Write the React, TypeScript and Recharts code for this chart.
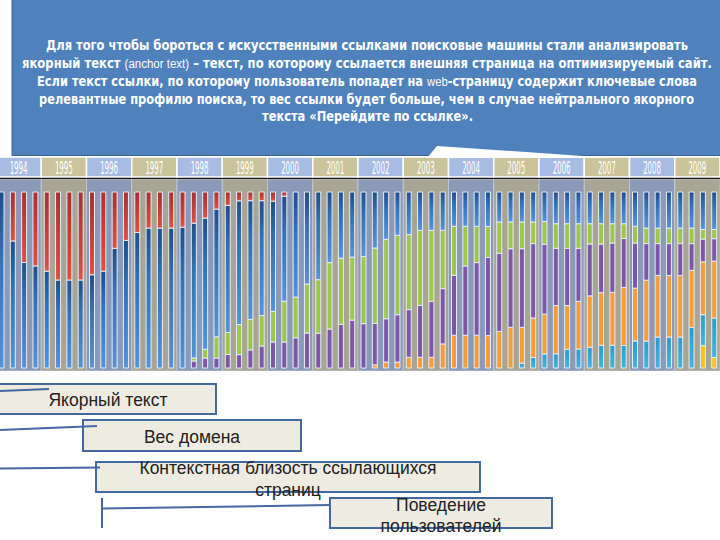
import React from 'react';
import { BarChart, Bar, XAxis, YAxis, ReferenceArea } from 'recharts';

// ---------- data ----------
const years = ['1994', '1995', '1996', '1997', '1998', '1999', '2000', '2001', '2002', '2003', '2004', '2005', '2006', '2007', '2008', '2009'];
const quarterNames = ['Q1', 'Q2', 'Q3', 'Q4'];
const categories = years.flatMap((y) => quarterNames.map((q) => `${y} ${q}`));

const red = [
  0, 27.8, 40, 42, 45, 50, 50, 50, 47, 45, 32, 27.5, 23, 20.5, 20.5, 20.5,
  20, 17.7, 14.8, 9.7, 7.6, 5, 4.9, 4.9, 5.2, 2.4, 0, 0, 0, 0, 0, 0,
  0, 0, 0, 0, 0, 0, 0, 0, 0, 0, 0, 0, 0, 0, 0, 0,
  0, 0, 0, 0, 0, 0, 0, 0, 0, 0, 0, 0, 0, 0, 0, 0,
];
const blue = [
  100, 72.2, 60, 58, 55, 50, 50, 50, 53, 55, 68, 72.5, 77, 79.5, 79.5, 79.5,
  80, 76.6, 74.5, 72.6, 72.2, 70.3, 67.5, 65.3, 62.6, 59.6, 59.7, 52.3, 49.8, 40.1, 37.6, 37,
  36.6, 31.8, 26.9, 24.6, 24.2, 21.8, 21.8, 21.8, 19.5, 19.5, 19.5, 19.6, 17, 17, 17, 17,
  16.8, 18, 18, 18, 18, 18, 18, 18, 19.5, 20.5, 20.5, 20.5, 20.5, 20.5, 21.3, 21.3,
];
const green = [
  0, 0, 0, 0, 0, 0, 0, 0, 0, 0, 0, 0, 0, 0, 0, 0,
  0, 1.7, 5, 12, 12.5, 17.1, 17.3, 17.3, 17.4, 23.2, 23.1, 27.8, 30.4, 37.7, 37.6, 35.8,
  38.2, 42.8, 45.1, 45.1, 42.6, 42.6, 40.3, 33.1, 27.8, 22.5, 20.6, 17.6, 17.8, 15.2, 15.2, 12.3,
  12.9, 14, 14, 14, 11.5, 11.5, 11, 8.4, 9.5, 8.8, 8.8, 8.8, 8.8, 8.8, 5.4, 5.2,
];
const purple = [
  0, 0, 0, 0, 0, 0, 0, 0, 0, 0, 0, 0, 0, 0, 0, 0,
  0, 4, 5.7, 5.7, 7.7, 7.6, 10.3, 12.5, 14.8, 14.8, 17.2, 19.9, 19.8, 22.2, 24.8, 27.2,
  25.2, 23.6, 24.6, 26.9, 27.1, 29.5, 31.8, 31.4, 34.1, 39.4, 41.3, 44.4, 44.4, 44.7, 44.7, 42.3,
  39.7, 32.5, 32.5, 30.1, 29.5, 27.7, 28, 27.8, 25.6, 20.8, 18.1, 18.1, 18.1, 15.2, 13, 12.8,
];
const orange = [
  0, 0, 0, 0, 0, 0, 0, 0, 0, 0, 0, 0, 0, 0, 0, 0,
  0, 0, 0, 0, 0, 0, 0, 0, 0, 0, 0, 0, 0, 0, 0, 0,
  0, 1.8, 3.4, 3.4, 6.1, 6.1, 6.1, 13.7, 18.6, 18.6, 18.6, 18.4, 20.8, 23.1, 20.3, 22.4,
  22.6, 27.4, 24.8, 27.1, 29.2, 29.9, 30, 33, 30, 34.6, 35, 35, 35, 32.4, 30, 32.3,
];
const cyan = [
  0, 0, 0, 0, 0, 0, 0, 0, 0, 0, 0, 0, 0, 0, 0, 0,
  0, 0, 0, 0, 0, 0, 0, 0, 0, 0, 0, 0, 0, 0, 0, 0,
  0, 0, 0, 0, 0, 0, 0, 0, 0, 0, 0, 0, 0, 0, 2.8, 6,
  8, 8.1, 10.7, 10.8, 11.8, 12.9, 13, 12.8, 15.4, 15.3, 17.6, 17.6, 17.6, 23.1, 17.6, 22.4,
];
const yellow = [
  0, 0, 0, 0, 0, 0, 0, 0, 0, 0, 0, 0, 0, 0, 0, 0,
  0, 0, 0, 0, 0, 0, 0, 0, 0, 0, 0, 0, 0, 0, 0, 0,
  0, 0, 0, 0, 0, 0, 0, 0, 0, 0, 0, 0, 0, 0, 0, 0,
  0, 0, 0, 0, 0, 0, 0, 0, 0, 0, 0, 0, 0, 0, 12.7, 6,
];

const noteLines = [
  ['Для того чтобы бороться с искусственными ссылками поисковые машины стали анализировать'],
  ['якорный текст ', '(anchor text)', ' – текст, по которому ссылается внешняя страница на оптимизируемый сайт.'],
  ['Если текст ссылки, по которому пользователь попадет на  ', 'web', '-страницу содержит ключевые слова'],
  ['релевантные профилю поиска, то вес ссылки будет больше, чем в случае нейтрального  якорного'],
  ['текста «Перейдите по ссылке».'],
];

const calloutTexts = [
  ['Якорный текст'],
  ['Вес домена'],
  ['Контекстная близость ссылающихся', 'страниц'],
  ['Поведение', 'пользователей'],
];

// ---------- table ----------
const seriesKeys = ['yellow', 'cyan', 'orange', 'purple', 'green', 'blue', 'red'];
const seriesValues: Record<string, number[]> = { yellow, cyan, orange, purple, green, blue, red };
const rows = categories.map((c, i) => {
  const raw = seriesKeys.map((k) => seriesValues[k][i]);
  const sum = raw.reduce((a, b) => a + b, 0);
  const row: Record<string, any> = { q: c };
  seriesKeys.forEach((k, j) => {
    row[k] = (raw[j] * 100) / sum;
  });
  return row;
});

// ---------- styles ----------
const seriesFill: Record<string, string> = {
  yellow: '#f4c41c',
  cyan: 'url(#gCyan)',
  orange: '#f49b3a',
  purple: '#7d56a5',
  green: '#9dc64f',
  blue: 'url(#gBlue)',
  red: 'url(#gRed)',
};

const Y_MIN = -1.7;
const BAND_TOP = 107.4;
const HEADER_BOTTOM = 108.55;
const Y_MAX = 119.9;

const noteLayout = [
  { x1: 46, x2: 688, y: 49.5 },
  { x1: 22, x2: 712, y: 68 },
  { x1: 37, x2: 697, y: 85.5 },
  { x1: 39, x2: 694, y: 103.5 },
  { x1: 262, x2: 473, y: 120.5 },
];

const BOX_STROKE = '#4368a0';
const BOX_FILL = '#eeece1';
const NARROW = "'Liberation Sans Narrow', 'DejaVu Sans Condensed', 'Liberation Sans', sans-serif";

const YearLabel = (props: any) => {
  const vb = props.viewBox || {};
  return (
    <text
      x={vb.x + vb.width / 2}
      y={vb.y + vb.height - 3}
      textAnchor="middle"
      fill="#ffffff"
      fontSize={17}
      fontFamily={NARROW}
      textLength={18}
      lengthAdjust="spacingAndGlyphs"
    >
      {props.year}
    </text>
  );
};

export default function App() {
  return (
    <div style={{ position: 'absolute', left: 0, top: 0, width: 720, height: 540, overflow: 'hidden', background: '#ffffff' }}>
      <div style={{ position: 'absolute', left: -4, top: 157 }}>
        <BarChart
          width={724}
          height={214}
          data={rows}
          margin={{ top: 0, right: 0, bottom: 0, left: 0 }}
          barSize={5}
        >
          <defs>
            <linearGradient id="gBlue" x1="0" y1="0" x2="0" y2="1">
              <stop offset="0" stopColor="#1f4d8a" />
              <stop offset="0.35" stopColor="#3470b6" />
              <stop offset="1" stopColor="#5593d8" />
            </linearGradient>
            <linearGradient id="gRed" x1="0" y1="0" x2="0" y2="1">
              <stop offset="0" stopColor="#a83030" />
              <stop offset="1" stopColor="#de5044" />
            </linearGradient>
            <linearGradient id="gCyan" x1="0" y1="0" x2="0" y2="1">
              <stop offset="0" stopColor="#2d9cc6" />
              <stop offset="1" stopColor="#45b3d8" />
            </linearGradient>
          </defs>
          <XAxis dataKey="q" hide />
          <YAxis hide type="number" domain={[Y_MIN, Y_MAX]} allowDataOverflow />
          {years.map((y, i) => (
            <ReferenceArea
              key={'band' + y}
              x1={categories[i * 4]}
              x2={categories[i * 4 + 3]}
              y1={Y_MIN}
              y2={BAND_TOP}
              fill={i % 2 === 0 ? '#8a9ab8' : '#a8a595'}
              fillOpacity={1}
              stroke="#c4ccd8"
              strokeWidth={0.8}
            />
          ))}
          <ReferenceArea y1={BAND_TOP} y2={HEADER_BOTTOM} fill="#151515" fillOpacity={1} />
          {years.map((y, i) => (
            <ReferenceArea
              key={'head' + y}
              x1={categories[i * 4]}
              x2={categories[i * 4 + 3]}
              y1={HEADER_BOTTOM}
              y2={Y_MAX}
              fill={i % 2 === 0 ? '#a7bce2' : '#cac39b'}
              fillOpacity={1}
              stroke="#ffffff"
              strokeWidth={1.5}
              label={(p: any) => <YearLabel {...p} year={y} />}
            />
          ))}
          {seriesKeys.map((k) => (
            <Bar
              key={k}
              dataKey={k}
              stackId="s"
              fill={seriesFill[k]}
              stroke="#e6edf5"
              strokeWidth={1}
              isAnimationActive={false}
            />
          ))}
        </BarChart>
      </div>

      <svg style={{ position: 'absolute', left: 0, top: 0 }} width={720} height={540}>
        {/* note box */}
        <rect x={12} y={-2} width={712} height={157.5} fill="#4f81bd" stroke="#3a6596" strokeWidth={1} />
        <polygon points="427,158 437,146 612,158" fill="#ffffff" />
        {noteLines.map((parts, i) => {
          const L = noteLayout[i];
          return (
            <text
              key={'n' + i}
              x={L.x1}
              y={L.y}
              fill="#ffffff"
              fontSize={13.5}
              fontWeight="bold"
              fontFamily={NARROW}
              textLength={L.x2 - L.x1}
              lengthAdjust="spacingAndGlyphs"
            >
              {parts.map((s, j) =>
                j === 1 ? (
                  <tspan key={j} fontFamily="'Liberation Sans', sans-serif" fontWeight="normal" fontSize={12}>
                    {s}
                  </tspan>
                ) : (
                  <tspan key={j}>{s}</tspan>
                )
              )}
            </text>
          );
        })}

        {/* callouts */}
        <g stroke={BOX_STROKE} strokeWidth={2} fill={BOX_FILL}>
          <rect x={-1} y={384} width={217} height={30} />
          <rect x={83} y={420} width={218} height={31} />
          <rect x={96} y={462} width={384} height={30} />
          <rect x={330} y={498} width={222} height={30} />
        </g>
        <g stroke={BOX_STROKE} strokeWidth={2} fill="none">
          <line x1={0} y1={391} x2={49} y2={389} />
          <line x1={0} y1={430} x2={97} y2={426} />
          <line x1={0} y1={468.5} x2={100} y2={467.5} />
          <line x1={102} y1={498} x2={102} y2={528} />
          <line x1={102} y1={508.5} x2={330} y2={505} />
        </g>
        <g fill="#222222" fontSize={17.5} fontFamily="'Liberation Sans', Arial, sans-serif" textAnchor="middle">
          <text x={108} y={405.5}>{calloutTexts[0][0]}</text>
          <text x={192} y={442.5}>{calloutTexts[1][0]}</text>
          <text x={288} y={473.5}>{calloutTexts[2][0]}</text>
          <text x={288} y={495.5}>{calloutTexts[2][1]}</text>
          <text x={441} y={511}>{calloutTexts[3][0]}</text>
          <text x={441} y={532}>{calloutTexts[3][1]}</text>
        </g>
      </svg>
    </div>
  );
}
